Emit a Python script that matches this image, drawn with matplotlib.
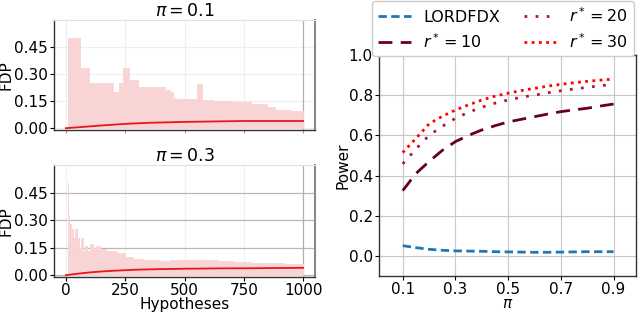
import matplotlib
matplotlib.use("Agg")
import matplotlib.pyplot as plt
import numpy as np

plt.rcParams['font.family'] = ['DejaVu Sans']
plt.rcParams['font.size'] = 11
plt.rcParams['mathtext.fontset'] = 'dejavusans'

# ---- left panels: FDP over hypotheses ----
top_h = [0, 7, 10, 14, 59, 97, 169, 175, 200, 222, 236, 239, 253, 258, 267, 306, 418, 440, 452, 465, 481, 551, 572, 620, 700, 780, 847, 882, 950, 1000]
top_upper = [0.0, 0.50, 0.33, 0.50, 0.333, 0.25, 0.22, 0.25, 0.20, 0.25, 0.20, 0.333, 0.29, 0.333, 0.27, 0.227, 0.21, 0.20, 0.17, 0.16, 0.16, 0.245, 0.155, 0.15, 0.145, 0.135, 0.12, 0.10, 0.095, 0.085]
top_mean_h = [0, 50, 100, 150, 250, 350, 500, 650, 750, 900, 1000]
top_mean = [0.0, 0.005, 0.010, 0.015, 0.024, 0.030, 0.035, 0.038, 0.040, 0.040, 0.040]

bot_h = [0, 7, 11, 14, 20, 25, 32, 40, 45, 55, 62, 73, 80, 90, 100, 115, 125, 143, 170, 214, 250, 284, 326, 397, 440, 467, 520, 565, 640, 705, 780, 847, 920, 1000]
bot_upper = [0.0, 0.50, 0.33, 0.28, 0.20, 0.25, 0.20, 0.25, 0.20, 0.15, 0.20, 0.13, 0.16, 0.13, 0.17, 0.15, 0.16, 0.14, 0.13, 0.12, 0.10, 0.09, 0.08, 0.075, 0.08, 0.085, 0.082, 0.08, 0.075, 0.07, 0.068, 0.065, 0.06, 0.055]
bot_mean_h = [0, 50, 100, 150, 200, 300, 400, 500, 650, 800, 1000]
bot_mean = [0.0, 0.008, 0.015, 0.020, 0.024, 0.030, 0.033, 0.035, 0.037, 0.038, 0.040]

hyp_ticks = [0, 250, 500, 750, 1000]
fdp_ticks = [0.00, 0.15, 0.30, 0.45]
fdp_labels = ['0.00', '0.15', '0.30', '0.45']

# ---- right panel: power vs pi ----
pi_vals = [0.1, 0.15, 0.2, 0.25, 0.3, 0.35, 0.4, 0.45, 0.5, 0.55, 0.6, 0.65, 0.7, 0.75, 0.8, 0.85, 0.9]
power_lord = [0.051, 0.041, 0.033, 0.028, 0.025, 0.024, 0.023, 0.021, 0.020, 0.019, 0.018, 0.018, 0.019, 0.020, 0.021, 0.021, 0.021]
power_r10 = [0.325, 0.41, 0.47, 0.525, 0.569, 0.600, 0.627, 0.648, 0.667, 0.680, 0.693, 0.706, 0.718, 0.727, 0.735, 0.746, 0.756]
power_r20 = [0.458, 0.532, 0.600, 0.645, 0.685, 0.715, 0.740, 0.760, 0.776, 0.790, 0.800, 0.812, 0.822, 0.831, 0.839, 0.847, 0.854]
power_r30 = [0.514, 0.585, 0.657, 0.695, 0.726, 0.752, 0.776, 0.795, 0.810, 0.823, 0.834, 0.845, 0.854, 0.862, 0.869, 0.875, 0.880]
pi_ticks = [0.1, 0.3, 0.5, 0.7, 0.9]
power_ticks = [0.0, 0.2, 0.4, 0.6, 0.8, 1.0]

W, H = 640, 312
fig = plt.figure(figsize=(6.4, 3.12), dpi=100)

def fax(x0, y0, x1, y1):
    return fig.add_axes([x0 / W, 1 - y1 / H, (x1 - x0) / W, (y1 - y0) / H])

ax_top = fax(54, 20, 315, 130)
ax_bot = fax(54, 165, 315, 277)
ax_r = fax(379, 55, 636, 276)

fill_col = '#f8d4d4'
for ax, hh, up, mh, mv, title in [
    (ax_top, top_h, top_upper, top_mean_h, top_mean, r'$\pi=0.1$'),
    (ax_bot, bot_h, bot_upper, bot_mean_h, bot_mean, r'$\pi=0.3$'),
]:
    ax.fill_between(hh, 0, up, step='post', facecolor=fill_col,
                    edgecolor=fill_col, lw=0.6, zorder=2)
    ax.plot(mh, mv, color='#e31a1c', lw=1.3, zorder=3)
    ax.set_xlim(-50, 1050)
    ax.set_ylim(-0.01, 0.6)
    ax.set_yticks(fdp_ticks)
    ax.set_yticklabels(fdp_labels)
    ax.set_xticks(hyp_ticks)
    ax.set_ylabel('FDP')
    ax.yaxis.set_label_coords(-0.155, 0.5)
    ax.set_title(title, pad=3, fontsize=12.5)
    ax.set_axisbelow(True)
    for s in ['left', 'bottom']:
        ax.spines[s].set_color('#333333')
        ax.spines[s].set_linewidth(1.0)
    ax.spines['top'].set_color('#e0e0e0')
    ax.spines['right'].set_color('#888888')
    ax.spines['right'].set_linewidth(1.5)
    ax.tick_params(length=3, pad=1.5, labelsize=11)
    ax.axvline(1000, color='#b0b0b0', lw=0.9, zorder=1)

ax_top.grid(True, color='#eeeeee', lw=0.8)
ax_top.tick_params(axis='x', labelbottom=False, length=2, color='#999999')
ax_bot.grid(True, axis='y', color='#b8b8b8', lw=0.9)
ax_bot.grid(True, axis='x', color='#f0f0f0', lw=0.8)
ax_bot.set_xlabel('Hypotheses', labelpad=-1)

# right panel
l1, = ax_r.plot(pi_vals, power_lord, color='#1f77b4', lw=2, ls=(0, (3, 1.6)), label='LORDFDX')
l2, = ax_r.plot(pi_vals, power_r10, color='#67001f', lw=2, ls=(0, (5, 3)), label=r'$r^*=10$')
l3, = ax_r.plot(pi_vals, power_r20, color='#b2182b', lw=2, ls=(0, (1, 3)), label=r'$r^*=20$')
l4, = ax_r.plot(pi_vals, power_r30, color='#ff0000', lw=2, ls=(0, (1, 1.6)), label=r'$r^*=30$')
ax_r.set_xlim(0.01, 0.985)
ax_r.set_ylim(-0.1, 1.0)
ax_r.set_xticks(pi_ticks)
ax_r.set_yticks(power_ticks)
ax_r.set_xlabel(r'$\pi$', labelpad=-1)
ax_r.set_ylabel('Power')
ax_r.yaxis.set_label_coords(-0.11, 0.5)
ax_r.set_axisbelow(True)
ax_r.grid(True, color='#c8c8c8', lw=0.8)
for s in ax_r.spines.values():
    s.set_color('#333333')
    s.set_linewidth(1.0)
ax_r.tick_params(length=3, pad=1.5, labelsize=11)

fig.legend(handles=[l1, l2, l3, l4], ncol=2, loc='upper left',
           bbox_to_anchor=(372 / W, 0.998), borderaxespad=0,
           frameon=True, fontsize=11.5, handlelength=2.1, handletextpad=0.75,
           columnspacing=1.5, borderpad=0.35, labelspacing=0.45,
           edgecolor='#cccccc', fancybox=True, framealpha=1)

fig.savefig('out.png', dpi=100)
